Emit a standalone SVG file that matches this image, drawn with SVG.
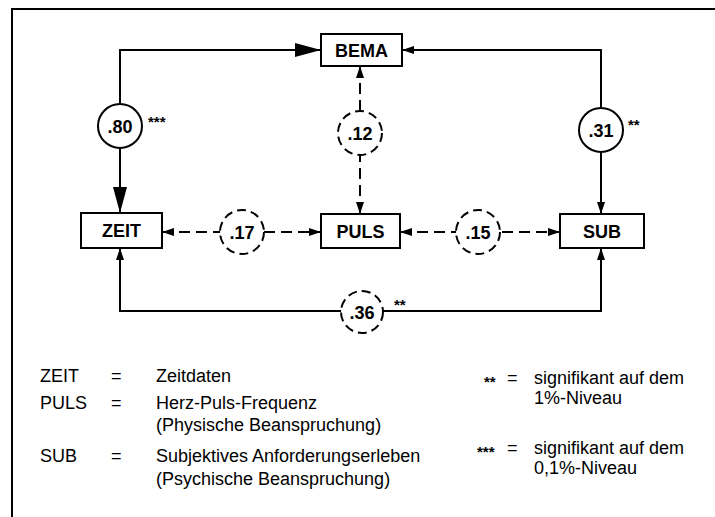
<svg xmlns="http://www.w3.org/2000/svg" width="715" height="517" viewBox="0 0 715 517">
<style>
.box{fill:#fff;stroke:#000;stroke-width:2}
.lbl{font-family:"Liberation Sans",Arial,sans-serif;font-size:18px;font-weight:bold;text-anchor:middle;fill:#000}
.circ{fill:#fff;stroke:#000;stroke-width:2}
.dcirc{fill:#fff;stroke:#000;stroke-width:2;stroke-dasharray:9 5}
.con{fill:none;stroke:#000;stroke-width:2}
.dash{fill:none;stroke:#000;stroke-width:2;stroke-dasharray:11 6}
.star{font-family:"Liberation Sans",Arial,sans-serif;font-size:15px;font-weight:bold;fill:#000}
.leg{font-family:"Liberation Sans",Arial,sans-serif;font-size:18px;fill:#000}
</style>
<defs>
<marker id="big" markerUnits="userSpaceOnUse" markerWidth="26" markerHeight="14" viewBox="0 0 26 14" refX="26" refY="7" orient="auto-start-reverse"><path d="M0,0 L26,7 L0,14 z" fill="#000"/></marker>
<marker id="sm" markerUnits="userSpaceOnUse" markerWidth="12" markerHeight="8" viewBox="0 0 12 8" refX="12" refY="4" orient="auto-start-reverse"><path d="M0,0 L12,4 L0,8 z" fill="#000"/></marker>
</defs>
<rect width="715" height="517" fill="#fff"/>
<path d="M12,517 V9 H715" fill="none" stroke="#000" stroke-width="2"/>
<g id="connectors">
<path class="con" d="M120,213 V50 H321" stroke-width="2.5" marker-start="url(#big)" marker-end="url(#big)"/>
<path class="con" d="M402,50 H601 V214" stroke-width="1.6" marker-start="url(#sm)" marker-end="url(#sm)"/>
<path class="con" d="M120,248 V311 H601 V248" marker-start="url(#sm)" marker-end="url(#sm)"/>
<path class="dash" d="M360,66 V214" marker-start="url(#sm)" marker-end="url(#sm)"/>
<path class="dash" d="M162,232 H321" marker-start="url(#sm)" marker-end="url(#sm)"/>
<path class="dash" d="M400,232 H560" marker-start="url(#sm)" marker-end="url(#sm)"/>
<g id="c80"><circle class="circ" cx="120" cy="126" r="22"/><text class="lbl" x="120" y="132.5">.80</text><text class="star" x="148" y="127">***</text></g>
<g id="c12"><circle class="dcirc" cx="360" cy="133" r="22"/><text class="lbl" x="360" y="139.5">.12</text></g>
<g id="c31"><circle class="circ" cx="601" cy="130" r="22"/><text class="lbl" x="601" y="136.5">.31</text><text class="star" x="628" y="130">**</text></g>
<g id="c17"><circle class="dcirc" cx="242" cy="232" r="22"/><text class="lbl" x="242" y="238.5">.17</text></g>
<g id="c15"><circle class="dcirc" cx="478" cy="232" r="22"/><text class="lbl" x="478" y="238.5">.15</text></g>
<g id="c36"><circle class="dcirc" cx="362" cy="312" r="21"/><text class="lbl" x="362" y="318.5">.36</text><text class="star" x="394" y="310">**</text></g>
</g>
<g id="BEMA"><rect class="box" x="321" y="34" width="81" height="32"/><text class="lbl" x="361.5" y="56.5">BEMA</text></g>
<g id="ZEIT"><rect class="box" x="81" y="213" width="81" height="35"/><text class="lbl" x="121.5" y="237">ZEIT</text></g>
<g id="PULS"><rect class="box" x="321" y="214" width="79" height="34"/><text class="lbl" x="360.5" y="237.5">PULS</text></g>
<g id="SUB"><rect class="box" x="560" y="214" width="84" height="34"/><text class="lbl" x="602" y="237.5">SUB</text></g>
<g id="legend">
<text class="leg" x="40" y="382">ZEIT</text>
<text class="leg" x="111" y="382">=</text>
<text class="leg" x="156" y="382">Zeitdaten</text>
<text class="leg" x="40" y="409">PULS</text>
<text class="leg" x="111" y="409">=</text>
<text class="leg" x="156" y="409">Herz-Puls-Frequenz</text>
<text class="leg" x="156" y="431">(Physische Beanspruchung)</text>
<text class="leg" x="40" y="462">SUB</text>
<text class="leg" x="111" y="462">=</text>
<text class="leg" x="156" y="462">Subjektives Anforderungserleben</text>
<text class="leg" x="156" y="485">(Psychische Beanspruchung)</text>
<text class="star" x="484" y="387">**</text>
<text class="leg" x="507" y="384">=</text>
<text class="leg" x="534" y="384">signifikant auf dem</text>
<text class="leg" x="534" y="404">1%-Niveau</text>
<text class="star" x="477" y="457">***</text>
<text class="leg" x="507" y="454">=</text>
<text class="leg" x="534" y="454">signifikant auf dem</text>
<text class="leg" x="534" y="474">0,1%-Niveau</text>
</g>
</svg>
